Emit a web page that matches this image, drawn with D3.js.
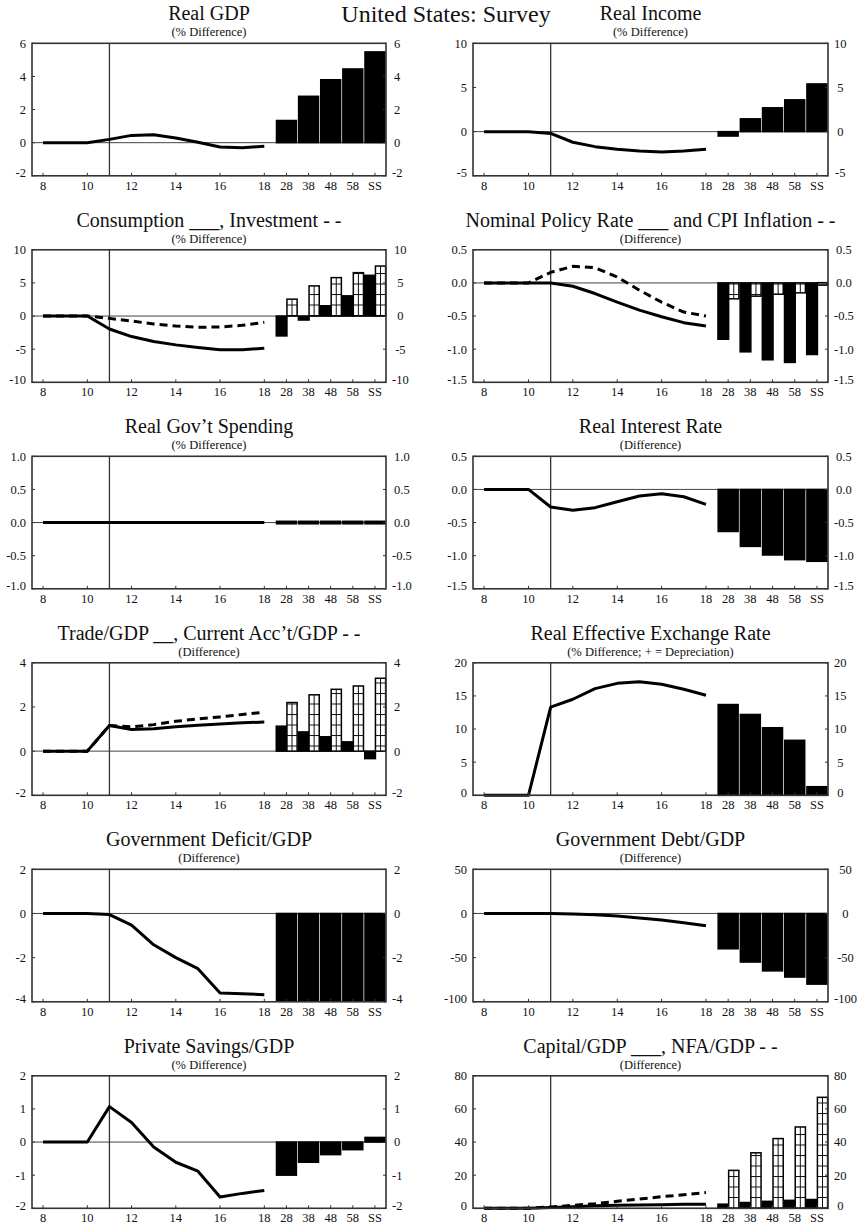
<!DOCTYPE html>
<html><head><meta charset="utf-8">
<script src="https://cdn.jsdelivr.net/npm/d3@7"></script>
<style>
body{margin:0;background:#fff}
svg{display:block;font-family:"Liberation Serif","Times New Roman",serif}
</style></head><body><svg id="chart" width="863" height="1226"></svg>
<script>
// Periods: annual path 8..18, then long-run snapshots
const nearYears = ["8","9","10","11","12","13","14","15","16","17","18"];
const farYears = ["28","38","48","58","SS"];
const xTickLabels = ["8","10","12","14","16","18","28","38","48","58","SS"];
const shockYear = "11";

// Real GDP (% difference)
const gdpTicks = [-2, 0, 2, 4, 6];
const realGdp = [0, 0, 0, 0.2, 0.44, 0.48, 0.28, 0.02, -0.26, -0.3, -0.22];
const realGdpLR = [1.34, 2.8, 3.8, 4.45, 5.48];

// Real Income (% difference)
const incomeTicks = [-5, 0, 5, 10];
const realIncome = [0, 0, 0, -0.2, -1.2, -1.7, -2.0, -2.2, -2.3, -2.2, -2.0];
const realIncomeLR = [-0.5, 1.45, 2.7, 3.6, 5.4];

// Consumption (solid) and Investment (dashed)
const consTicks = [-10, -5, 0, 5, 10];
const consumption = [0, 0, 0, -1.95, -3.1, -3.85, -4.35, -4.75, -5.1, -5.1, -4.85];
const investment = [0, 0, 0, -0.35, -0.75, -1.2, -1.5, -1.7, -1.65, -1.4, -0.95];
const consumptionLR = [-3.0, -0.6, 1.55, 3.05, 6.15];
const investmentLR = [2.55, 4.55, 5.8, 6.55, 7.55];

// Nominal policy rate (solid) and CPI inflation (dashed)
const rateTicks = [-1.5, -1.0, -0.5, 0.0, 0.5];
const policyRate = [0, 0, 0, 0, -0.05, -0.16, -0.29, -0.41, -0.51, -0.6, -0.65];
const cpiInflation = [0, 0, 0, 0.16, 0.25, 0.23, 0.09, -0.11, -0.29, -0.44, -0.5];
const policyRateLR = [-0.85, -1.04, -1.16, -1.2, -1.08];
const cpiInflationLR = [-0.24, -0.2, -0.17, -0.15, -0.03];

// Real government spending
const govTicks = [-1.0, -0.5, 0.0, 0.5, 1.0];
const govSpending = [0, 0, 0, 0, 0, 0, 0, 0, 0, 0, 0];
const govSpendingLR = [0, 0, 0, 0, 0];

// Real interest rate
const realRate = [0, 0, 0, -0.265, -0.315, -0.275, -0.185, -0.1, -0.065, -0.11, -0.225];
const realRateLR = [-0.635, -0.86, -0.99, -1.06, -1.085];

// Trade balance (solid) and current account (dashed), % of GDP
const tradeTicks = [-2, 0, 2, 4];
const tradeBal = [0, 0, 0, 1.16, 0.98, 1.01, 1.1, 1.17, 1.23, 1.28, 1.32];
const currentAcct = [0, 0, 0, 1.16, 1.1, 1.2, 1.35, 1.46, 1.55, 1.66, 1.76];
const tradeBalLR = [1.13, 0.87, 0.65, 0.42, -0.34];
const currentAcctLR = [2.2, 2.55, 2.8, 2.95, 3.3];

// Real effective exchange rate
const reerTicks = [0, 5, 10, 15, 20];
const reer = [0, 0, 0, 13.3, 14.5, 16.1, 16.9, 17.15, 16.75, 16.0, 15.1];
const reerLR = [13.7, 12.2, 10.2, 8.3, 1.3];

// Government deficit / GDP
const deficitTicks = [-4, -2, 0, 2];
const govDeficit = [0, 0, 0, -0.05, -0.53, -1.42, -2.0, -2.5, -3.6, -3.63, -3.68];
const govDeficitLR = [-3.95, -3.95, -3.95, -3.95, -3.95];

// Government debt / GDP
const debtTicks = [-100, -50, 0, 50];
const govDebt = [0, 0, 0, 0, -0.5, -1.5, -3, -5, -7.5, -10.5, -14];
const govDebtLR = [-40, -55, -65, -72, -80];

// Private savings / GDP
const savingsTicks = [-2, -1, 0, 1, 2];
const privSavings = [0, 0, 0, 1.07, 0.59, -0.15, -0.61, -0.88, -1.66, -1.55, -1.46];
const privSavingsLR = [-1.0, -0.61, -0.38, -0.23, 0.14];

// Capital / GDP (solid) and NFA / GDP (dashed)
const capTicks = [0, 20, 40, 60, 80];
const capital = [0, 0, 0, 0.5, 1.0, 1.5, 1.8, 2.0, 2.2, 2.4, 2.5];
const nfa = [0, 0, 0, 0.8, 1.8, 2.8, 4.2, 5.6, 7.0, 8.2, 9.5];
const capitalLR = [2.5, 3.5, 4.2, 4.8, 5.3];
const nfaLR = [22.9, 33.5, 42.1, 49.1, 67];

const panels = [
  {title: "Real GDP", sub: "(% Difference)", col: 0, row: 0, ticks: gdpTicks, fmt: "d", solid: realGdp, bars: realGdpLR},
  {title: "Real Income", sub: "(% Difference)", col: 1, row: 0, ticks: incomeTicks, fmt: "d", solid: realIncome, bars: realIncomeLR},
  {title: "Consumption ___, Investment - -", sub: "(% Difference)", col: 0, row: 1, ticks: consTicks, fmt: "d", solid: consumption, dashed: investment, bars: consumptionLR, hatch: investmentLR},
  {title: "Nominal Policy Rate ___ and CPI Inflation - -", sub: "(Difference)", col: 1, row: 1, ticks: rateTicks, fmt: ".1f", solid: policyRate, dashed: cpiInflation, bars: policyRateLR, hatch: cpiInflationLR},
  {title: "Real Gov\u2019t Spending", sub: "(% Difference)", col: 0, row: 2, ticks: govTicks, fmt: ".1f", solid: govSpending, bars: govSpendingLR},
  {title: "Real Interest Rate", sub: "(Difference)", col: 1, row: 2, ticks: rateTicks, fmt: ".1f", solid: realRate, bars: realRateLR},
  {title: "Trade/GDP __, Current Acc\u2019t/GDP - -", sub: "(Difference)", col: 0, row: 3, ticks: tradeTicks, fmt: "d", solid: tradeBal, dashed: currentAcct, bars: tradeBalLR, hatch: currentAcctLR},
  {title: "Real Effective Exchange Rate", sub: "(% Difference; + = Depreciation)", col: 1, row: 3, ticks: reerTicks, fmt: "d", solid: reer, bars: reerLR},
  {title: "Government Deficit/GDP", sub: "(Difference)", col: 0, row: 4, ticks: deficitTicks, fmt: "d", solid: govDeficit, bars: govDeficitLR},
  {title: "Government Debt/GDP", sub: "(Difference)", col: 1, row: 4, ticks: debtTicks, fmt: "d", solid: govDebt, bars: govDebtLR},
  {title: "Private Savings/GDP", sub: "(% Difference)", col: 0, row: 5, ticks: savingsTicks, fmt: "d", solid: privSavings, bars: privSavingsLR},
  {title: "Capital/GDP ___, NFA/GDP - -", sub: "(Difference)", col: 1, row: 5, ticks: capTicks, fmt: "d", solid: capital, dashed: nfa, bars: capitalLR, hatch: nfaLR}
];

const locale = d3.formatLocale({decimal: ".", thousands: ",", grouping: [3], currency: ["$", ""], minus: "-"});
const svg = d3.select("#chart");
svg.append("rect").attr("width", 863).attr("height", 1226).attr("fill", "#fff");

// Ladder fill used by the second-series bars
const defs = svg.append("defs");
const pat = defs.append("pattern").attr("id", "ladder").attr("patternUnits", "userSpaceOnUse")
  .attr("width", 6).attr("height", 10.5);
pat.append("rect").attr("width", 6).attr("height", 10.5).attr("fill", "#fff");
pat.append("line").attr("x1", 0).attr("x2", 6).attr("y1", 0.5).attr("y2", 0.5)
  .attr("stroke", "#111").attr("stroke-width", 1);

svg.append("text").attr("x", 446).attr("y", 22).attr("text-anchor", "middle")
  .attr("font-size", 24).attr("fill", "#111").text("United States: Survey");

const colX = [[32, 386], [473, 828]];
const rowTop = r => 43.3 + r * 206.5;
const plotH = 132.5;
const allYears = nearYears.concat(farYears);

panels.forEach(p => {
  const [x0, x1] = colX[p.col];
  const top = rowTop(p.row), bottom = top + plotH;
  const x = d3.scalePoint().domain(allYears).range([x0, x1]).padding(0.5);
  const step = x.step();
  const y = d3.scaleLinear().domain(d3.extent(p.ticks)).range([bottom, top]);
  const fmt = locale.format(p.fmt);
  const g = svg.append("g");
  const cx = (x0 + x1) / 2;

  g.append("text").attr("x", cx).attr("y", top - 23).attr("text-anchor", "middle")
    .attr("font-size", 20).attr("fill", "#111").text(p.title);
  g.append("text").attr("x", cx).attr("y", top - 7).attr("text-anchor", "middle")
    .attr("font-size", 12.5).attr("fill", "#111").text(p.sub);

  // zero line and shock marker
  g.append("line").attr("x1", x0).attr("x2", x1).attr("y1", y(0)).attr("y2", y(0))
    .attr("stroke", "#444").attr("stroke-width", 1);
  g.append("line").attr("x1", x(shockYear)).attr("x2", x(shockYear)).attr("y1", top).attr("y2", bottom)
    .attr("stroke", "#333").attr("stroke-width", 1.3);

  // long-run bars
  const paired = !!p.hatch;
  const bw = step * 0.46;
  const barRect = (v, xl, w, fill) => {
    const yv = y(v), y0 = y(0);
    let yt = Math.min(yv, y0), h = Math.abs(yv - y0);
    if (h < 2.5) { yt = (yv + y0) / 2 - 1.25; h = 2.5; }
    g.append("rect").attr("x", xl).attr("y", yt).attr("width", w).attr("height", h)
      .attr("fill", fill).attr("stroke", "#000").attr("stroke-width", 1.5);
    return {yt, h};
  };
  p.bars.forEach((v, i) => {
    const c = x(farYears[i]);
    if (paired) barRect(v, c - bw, bw + 0.5, "#000");
    else barRect(v, c - step * 0.45, step * 0.9, "#000");
  });
  if (paired) {
    p.hatch.forEach((v, i) => {
      const c = x(farYears[i]);
      const r = barRect(v, c + 0.5, bw, "url(#ladder)");
      if (r.h > 6) {
        g.append("line").attr("x1", c + 0.5 + bw / 2).attr("x2", c + 0.5 + bw / 2)
          .attr("y1", r.yt).attr("y2", r.yt + r.h).attr("stroke", "#111").attr("stroke-width", 1);
      }
    });
  }

  // paths over the first decade
  const line = d3.line().x((d, i) => x(nearYears[i])).y(d => y(d));
  if (p.dashed) {
    g.append("path").attr("d", line(p.dashed)).attr("fill", "none").attr("stroke", "#000")
      .attr("stroke-width", 3).attr("stroke-dasharray", "8,5");
  }
  g.append("path").attr("d", line(p.solid)).attr("fill", "none").attr("stroke", "#000")
    .attr("stroke-width", 3).attr("stroke-linejoin", "round");

  // frame
  g.append("rect").attr("x", x0).attr("y", top).attr("width", x1 - x0).attr("height", plotH)
    .attr("fill", "none").attr("stroke", "#333").attr("stroke-width", 1.6);

  // y ticks and labels on both sides
  const ext = d3.extent(p.ticks);
  const labelsR = [];
  p.ticks.forEach(t => {
    const yy = y(t) - (t === ext[0] ? 3 : 0);
    g.append("line").attr("x1", x0).attr("x2", x0 + 3).attr("y1", y(t)).attr("y2", y(t)).attr("stroke", "#333");
    g.append("line").attr("x1", x1 - 3).attr("x2", x1).attr("y1", y(t)).attr("y2", y(t)).attr("stroke", "#333");
    g.append("text").attr("x", x0 - 6).attr("y", yy).attr("dy", "0.35em").attr("text-anchor", "end")
      .attr("font-size", 12.5).attr("fill", "#111").text(fmt(t));
    labelsR.push(g.append("text").attr("y", yy).attr("dy", "0.35em").attr("text-anchor", "middle")
      .attr("font-size", 12.5).attr("fill", "#111").text(fmt(t)));
  });
  const maxW = d3.max(labelsR, t => t.node().getComputedTextLength());
  labelsR.forEach(t => t.attr("x", x1 + 6 + maxW / 2));

  // x ticks and labels
  xTickLabels.forEach(k => {
    g.append("line").attr("x1", x(k)).attr("x2", x(k)).attr("y1", bottom).attr("y2", bottom - 3).attr("stroke", "#333");
    g.append("text").attr("x", x(k)).attr("y", bottom + 14).attr("text-anchor", "middle")
      .attr("font-size", 12.5).attr("fill", "#111").text(k);
  });
});
</script></body></html>
